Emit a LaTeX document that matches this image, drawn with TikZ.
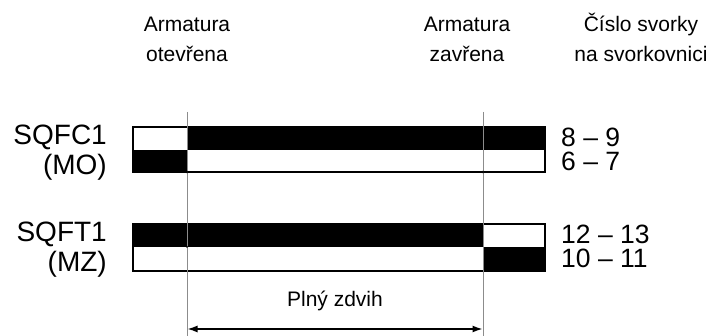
\documentclass[tikz,border=0pt]{standalone}
\usepackage{fontspec}
\setmainfont{Liberation Sans}
\usetikzlibrary{arrows.meta}
\tikzset{
  hdr/.style={inner sep=0pt, anchor=base, font=\fontsize{21}{23}\selectfont},
  lbl/.style={inner sep=0pt, anchor=base east, font=\fontsize{28}{30}\selectfont},
  num/.style={inner sep=0pt, anchor=base west, font=\fontsize{26.5}{28}\selectfont},
  guide/.style={draw=black!45, line width=1pt},
  blk/.style={fill=black},
  frame/.style={draw=black, line width=2pt},
  dimarrow/.style={line width=1.4pt, {Latex[length=10pt,width=7pt]}-{Latex[length=10pt,width=7pt]}}
}
\begin{document}
\begin{tikzpicture}[x=1pt,y=-1pt]
\useasboundingbox (0,0) rectangle (715,336);
% headers
\node[hdr] (h1a) at (187,32) {Armatura};
\node[hdr] (h1b) at (187,62) {otevřena};
\node[hdr] (h2a) at (467,32) {Armatura};
\node[hdr] (h2b) at (467,62) {zavřena};
\node[hdr] (h3a) at (641,32) {Číslo svorky};
\node[hdr] (h3b) at (641,62) {na svorkovnici};
% left labels
\node[lbl] (l1) at (107,145) {SQFC1};
\node[lbl] (l2) at (107,175) {(MO)};
\node[lbl] (l3) at (107,242) {SQFT1};
\node[lbl] (l4) at (107,272) {(MZ)};
% right numbers
\node[num] (n1) at (561,147) {8 – 9};
\node[num] (n2) at (561,171) {6 – 7};
\node[num] (n3) at (561,244) {12 – 13};
\node[num] (n4) at (561,268) {10 – 11};
% bars SQFC1
\fill[blk] (187,127.5) rectangle (545,150);
\fill[blk] (133,150) rectangle (187,172);
\draw[frame] (133,127.5) rectangle (545,172);
% bars SQFT1
\fill[blk] (133,224.5) rectangle (483,247);
\fill[blk] (483,247) rectangle (545,271);
\draw[frame] (133,224.5) rectangle (545,271);
% guides
\coordinate (g1t) at (187,112);
\coordinate (g1b) at (187,336);
\coordinate (g2t) at (483,112);
\coordinate (g2b) at (483,336);
\draw[guide] (g1t) -- (g1b);
\draw[guide] (g2t) -- (g2b);
\fill (187,172) circle (1.3);
\fill (483,172) circle (1.3);
\fill (187,247) circle (1.0);
% dimension
\coordinate (a1) at (187.5,329);
\coordinate (a2) at (482.5,329);
\draw[dimarrow] (a1) -- (a2);
\node[hdr] (pz) at (335,307) {Plný zdvih};
\end{tikzpicture}
\end{document}
